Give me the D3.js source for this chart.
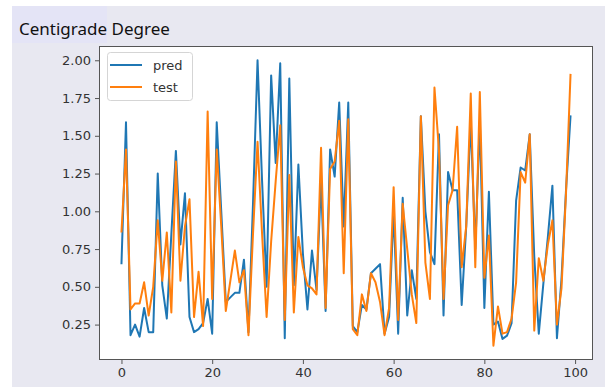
<!DOCTYPE html>
<html>
<head>
<meta charset="utf-8">
<script src="https://cdn.jsdelivr.net/npm/d3@7"></script>
<style>
  body { margin: 0; background: #fff; }
  svg { display: block; }
</style>
</head>
<body>
<svg id="chart" width="605" height="387"></svg>
<script>
// values
var pred = [0.65, 1.59, 0.18, 0.25, 0.17, 0.36, 0.20, 0.20, 1.25, 0.51,
  0.29, 0.85, 1.40, 0.78, 1.12, 0.30, 0.20, 0.22, 0.26, 0.42,
  0.19, 1.59, 1.00, 0.40, 0.43, 0.46, 0.46, 0.68, 0.20, 1.05,
  2.00, 1.20, 0.50, 1.90, 1.32, 1.98, 0.16, 1.88, 0.51, 1.31,
  0.72, 0.35, 0.74, 0.48, 1.20, 0.34, 1.41, 1.23, 1.72, 0.90,
  1.72, 0.24, 0.20, 0.38, 0.35, 0.59, 0.62, 0.65, 0.19, 0.30,
  1.00, 0.19, 1.09, 0.31, 0.61, 0.42, 1.63, 1.00, 0.73, 0.65,
  1.51, 0.31, 1.26, 1.14, 1.14, 0.38, 0.90, 1.60, 0.75, 1.60,
  0.36, 1.13, 0.25, 0.27, 0.155, 0.177, 0.26, 1.07, 1.29, 1.27,
  1.51, 0.70, 0.19, 0.52, 0.83, 1.17, 0.16, 0.55, 1.14, 1.635];

var test = [0.86, 1.41, 0.35, 0.39, 0.39, 0.53, 0.31, 0.50, 0.94, 0.54,
  0.86, 0.33, 1.33, 0.54, 0.90, 1.08, 0.30, 0.60, 0.24, 1.66,
  0.42, 1.41, 0.90, 0.34, 0.54, 0.74, 0.53, 0.61, 0.18, 0.85,
  1.46, 0.85, 0.30, 0.80, 1.20, 1.57, 0.28, 1.24, 0.33, 0.83,
  0.63, 0.51, 0.49, 0.45, 1.42, 0.36, 1.28, 1.33, 1.60, 0.59,
  1.61, 0.22, 0.18, 0.45, 0.34, 0.59, 0.53, 0.40, 0.18, 0.36,
  1.16, 0.28, 1.05, 0.75, 0.45, 0.26, 1.63, 0.66, 0.42, 1.82,
  1.40, 0.42, 1.04, 1.14, 1.56, 0.63, 0.90, 1.78, 0.63, 1.79,
  0.56, 0.84, 0.11, 0.37, 0.19, 0.20, 0.29, 0.53, 1.26, 1.19,
  1.51, 0.21, 0.69, 0.54, 0.78, 0.94, 0.25, 0.49, 1.12, 1.91];

var xTicks = [0, 20, 40, 60, 80, 100];
var yTicks = [0.25, 0.50, 0.75, 1.00, 1.25, 1.50, 1.75, 2.00];
var seriesNames = ["pred", "test"];
var seriesColors = ["#1f77b4", "#ff7f0e"];

var margin = { top: 46, right: 12, bottom: 27, left: 99 },
  width = 605 - margin.left - margin.right,
  height = 387 - margin.top - margin.bottom;

var root = d3.select("#chart");

// figure background and title box
root.append("rect")
  .attr("x", 12).attr("y", 6)
  .attr("width", 593).attr("height", 381)
  .attr("fill", "#e8e8f1");
root.append("rect")
  .attr("x", 12).attr("y", 6)
  .attr("width", 95).attr("height", 37)
  .attr("fill", "#e4e4f6");
root.append("text")
  .attr("x", 19).attr("y", 35)
  .attr("font-family", "Noto Sans, sans-serif")
  .attr("font-size", 17)
  .attr("fill", "#111")
  .text("Centigrade Degree");

var svg = root.append("g")
  .attr("transform", "translate(" + margin.left + "," + margin.top + ")");

svg.append("rect")
  .attr("width", width).attr("height", height)
  .attr("fill", "#fff");

// matplotlib style 5% margins
var n = pred.length;
var xPad = (n - 1) * 0.05;
var x = d3.scaleLinear()
  .domain([-xPad, n - 1 + xPad])
  .range([0, width]);

var all = pred.concat(test);
var yMin = d3.min(all), yMax = d3.max(all);
var yPad = (yMax - yMin) * 0.05;
var y = d3.scaleLinear()
  .domain([yMin - yPad, yMax + yPad])
  .range([height, 0]);

var line = d3.line()
  .x(function (d, i) { return x(i); })
  .y(function (d) { return y(d); });

[pred, test].forEach(function (s, k) {
  svg.append("path")
    .datum(s)
    .attr("fill", "none")
    .attr("stroke", seriesColors[k])
    .attr("stroke-width", 2)
    .attr("stroke-linejoin", "round")
    .attr("d", line);
});

// axes
var xAxis = svg.append("g")
  .attr("transform", "translate(0," + height + ")")
  .call(d3.axisBottom(x).tickValues(xTicks).tickSize(4).tickPadding(4).tickFormat(d3.format("d")));
var yAxis = svg.append("g")
  .call(d3.axisLeft(y).tickValues(yTicks).tickSize(4).tickPadding(4).tickFormat(d3.format(".2f")));

[xAxis, yAxis].forEach(function (a) {
  a.select(".domain").remove();
  a.selectAll("line").attr("stroke", "#555");
  a.selectAll("text")
    .attr("font-family", "DejaVu Sans, sans-serif")
    .attr("font-size", 13)
    .attr("fill", "#333");
});

// spines
svg.append("rect")
  .attr("x", 0.5).attr("y", 0.5)
  .attr("width", width - 1).attr("height", height - 1)
  .attr("fill", "none")
  .attr("stroke", "#555")
  .attr("stroke-width", 1);

// legend
var legend = svg.append("g").attr("transform", "translate(8,6)");
legend.append("rect")
  .attr("x", 0.5).attr("y", 0.5)
  .attr("width", 85).attr("height", 48)
  .attr("rx", 3)
  .attr("fill", "#fff")
  .attr("fill-opacity", 0.85)
  .attr("stroke", "#d5d5d5");
seriesNames.forEach(function (name, i) {
  var g = legend.append("g").attr("transform", "translate(0," + (13 + i * 22) + ")");
  g.append("line")
    .attr("x1", 3).attr("x2", 35)
    .attr("stroke", seriesColors[i])
    .attr("stroke-width", 2);
  g.append("text")
    .attr("x", 46).attr("dy", "0.35em")
    .attr("font-family", "DejaVu Sans, sans-serif")
    .attr("font-size", 13)
    .attr("fill", "#333")
    .text(name);
});
</script>
</body>
</html>
